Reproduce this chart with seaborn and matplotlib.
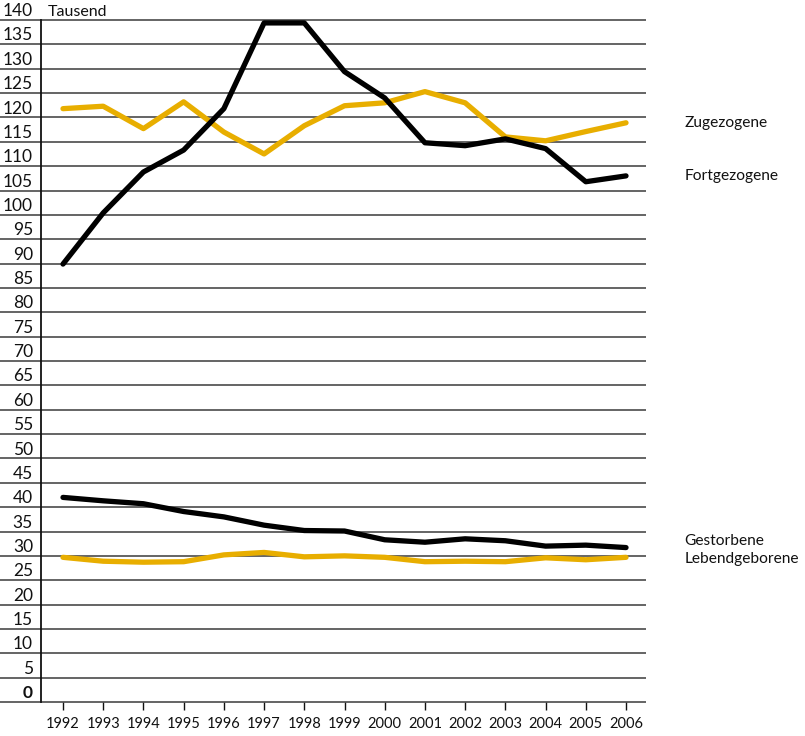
import pandas as pd
import matplotlib.pyplot as plt
import seaborn as sns

# Data (Tausend)
years = list(range(1992, 2007))
zugezogene = [121.8, 122.3, 117.7, 123.2, 117.0, 112.5, 118.3, 122.4, 123.0, 125.3, 123.0, 116.0, 115.2, 117.1, 118.9]
fortgezogene = [89.9, 100.4, 108.8, 113.3, 121.8, 139.4, 139.4, 129.4, 124.0, 114.8, 114.2, 115.6, 113.6, 106.8, 108.0]
gestorbene = [42.0, 41.3, 40.7, 39.1, 38.0, 36.3, 35.2, 35.1, 33.3, 32.8, 33.5, 33.1, 32.0, 32.2, 31.7]
lebendgeborene = [29.7, 28.9, 28.7, 28.8, 30.2, 30.7, 29.8, 30.0, 29.7, 28.8, 28.9, 28.8, 29.6, 29.2, 29.7]
y_ticks = list(range(0, 145, 5))

series = {
    'Zugezogene': zugezogene,
    'Fortgezogene': fortgezogene,
    'Gestorbene': gestorbene,
    'Lebendgeborene': lebendgeborene,
}
df = pd.concat(
    [pd.DataFrame({'Jahr': years, 'Wert': v, 'Reihe': k}) for k, v in series.items()],
    ignore_index=True,
)

yellow = '#E8AE00'
palette = {'Zugezogene': yellow, 'Fortgezogene': 'black',
           'Gestorbene': 'black', 'Lebendgeborene': yellow}

sns.set_style('white')
plt.rcParams['font.family'] = ['Lato', 'DejaVu Sans']

fig = plt.figure(figsize=(8.05, 7.36), dpi=100)
ax = fig.add_axes([41 / 805, 1 - 702 / 736, 605 / 805, 682 / 736])

sns.lineplot(data=df, x='Jahr', y='Wert', hue='Reihe', palette=palette,
             linewidth=3.8, legend=False, ax=ax, zorder=3)

ax.set_xlim(1991.453, 2006.497)
ax.set_ylim(0, 140)

# horizontal grid lines reaching into the label area
ax.hlines(y_ticks, -41 / 605, 1, transform=ax.get_yaxis_transform(),
          colors='#3a3a3a', linewidth=1.1, clip_on=False, zorder=1)

# y labels sit just above their line
ytrans = ax.get_yaxis_transform()
for v in y_ticks:
    ax.text(-8 / 605, v + 0.8, str(v), transform=ytrans, ha='right', va='baseline',
            fontsize=12.5, fontweight='bold' if v == 0 else 'normal', color='#111111')
ax.set_yticks([])

ax.text(7 / 605, 140.9, 'Tausend', transform=ytrans, ha='left', va='baseline',
        fontsize=11.5, color='#111111')

# series labels on the right
for label, yv in [('Zugezogene', 118.9), ('Fortgezogene', 108.0),
                  ('Gestorbene', 33.1), ('Lebendgeborene', 29.4)]:
    ax.text(1.064, yv, label, transform=ytrans, ha='left', va='center',
            fontsize=11.2, color='#111111')

ax.set_xticks(years)
ax.set_xticklabels([str(y) for y in years], fontsize=10.5)
ax.tick_params(axis='x', length=6, width=1, direction='out', pad=5,
               colors='#111111', bottom=True)
ax.set_xlabel('')
ax.set_ylabel('')

for s in ['top', 'right', 'bottom']:
    ax.spines[s].set_visible(False)
ax.spines['left'].set_color('#111111')
ax.spines['left'].set_linewidth(1.3)

fig.savefig('out.png', dpi=100)
